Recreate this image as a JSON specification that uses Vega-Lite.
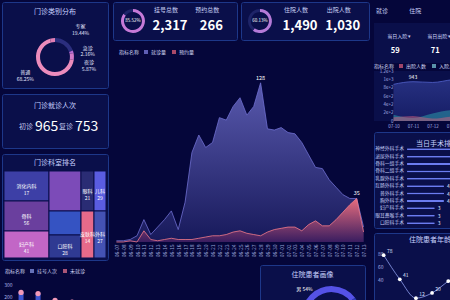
{
"$schema":"https://vega.github.io/schema/vega-lite/v6.json",
"usermeta":{"embedOptions":{"actions":false}},
"background":"#05063a",
"padding":{"left":1,"top":1,"right":0,"bottom":0},
"config":{
 "font":"Noto Sans CJK SC",
 "view":{"stroke":null},
 "axis":{"domain":false,"ticks":false,"grid":false,"labelColor":"#a7b0e4","labelFontSize":5,"labelFont":"Noto Sans CJK SC"},
 "legend":{"labelColor":"#d3d7f5","titleColor":"#d3d7f5","labelFontSize":5,"titleFontSize":5,"symbolType":"square","symbolSize":16,"columnPadding":4,"titlePadding":3,"labelFont":"Noto Sans CJK SC","titleFont":"Noto Sans CJK SC","titleFontWeight":"normal","labelOffset":2,"padding":0},
 "title":{"color":"#c9d2ff","fontSize":7,"fontWeight":"normal","anchor":"middle","frame":"group","baseline":"bottom","offset":-12,"font":"Noto Sans CJK SC"}
},
"datasets":{
 "visitType":[
  {"name":"专家","v":19.44,"lbl":"专家\n19.44%","o":1},
  {"name":"急诊","v":2.16,"lbl":"急诊\n2.16%","o":2},
  {"name":"夜诊","v":5.87,"lbl":"夜诊\n5.87%","o":3},
  {"name":"普通","v":68.25,"lbl":"普通\n68.25%","o":4},
  {"name":"其他","v":4.28,"lbl":"","o":5}
 ],
 "dept":[
  {"c":1,"r":1,"name":"消化内科","v":1350,"n":17},
  {"c":1,"r":2,"name":"骨科","v":1350,"n":56},
  {"c":1,"r":3,"name":"妇产科","v":1215,"n":41},
  {"c":2,"r":1,"name":"神经内科","v":1280,"n":null},
  {"c":2,"r":2,"name":"呼吸内科","v":768,"n":null},
  {"c":2,"r":3,"name":"口腔科","v":736,"n":28},
  {"c":3,"r":1,"name":"眼科","v":520,"n":21},
  {"c":3,"r":2,"name":"皮肤科","v":611,"n":14},
  {"c":4,"r":1,"name":"儿科","v":480,"n":29},
  {"c":4,"r":2,"name":"外科","v":564,"n":27}
 ],
 "trend":[
  {"d":"06-07","s":"就诊量","v":1},{"d":"06-08","s":"就诊量","v":1},{"d":"06-09","s":"就诊量","v":2},{"d":"06-10","s":"就诊量","v":5},{"d":"06-11","s":"就诊量","v":18},{"d":"06-12","s":"就诊量","v":6},{"d":"06-13","s":"就诊量","v":12},{"d":"06-14","s":"就诊量","v":18},{"d":"06-15","s":"就诊量","v":25},{"d":"06-16","s":"就诊量","v":10},
  {"d":"06-17","s":"就诊量","v":32},{"d":"06-18","s":"就诊量","v":72},{"d":"06-19","s":"就诊量","v":86},{"d":"06-20","s":"就诊量","v":76},{"d":"06-21","s":"就诊量","v":80},{"d":"06-22","s":"就诊量","v":100},{"d":"06-23","s":"就诊量","v":98},{"d":"06-24","s":"就诊量","v":109},{"d":"06-25","s":"就诊量","v":116},{"d":"06-26","s":"就诊量","v":102},
  {"d":"06-27","s":"就诊量","v":109},{"d":"06-28","s":"就诊量","v":128},{"d":"06-29","s":"就诊量","v":91},{"d":"06-30","s":"就诊量","v":90},{"d":"07-01","s":"就诊量","v":92},{"d":"07-02","s":"就诊量","v":88},{"d":"07-03","s":"就诊量","v":87},{"d":"07-04","s":"就诊量","v":80},{"d":"07-05","s":"就诊量","v":70},{"d":"07-06","s":"就诊量","v":60},
  {"d":"07-07","s":"就诊量","v":59},{"d":"07-08","s":"就诊量","v":50},{"d":"07-09","s":"就诊量","v":44},{"d":"07-10","s":"就诊量","v":38},{"d":"07-11","s":"就诊量","v":35},{"d":"07-12","s":"就诊量","v":35},{"d":"07-13","s":"就诊量","v":12},
  {"d":"06-07","s":"预约量","v":0},{"d":"06-08","s":"预约量","v":0},{"d":"06-09","s":"预约量","v":1},{"d":"06-10","s":"预约量","v":0},{"d":"06-11","s":"预约量","v":9},{"d":"06-12","s":"预约量","v":2},{"d":"06-13","s":"预约量","v":1},{"d":"06-14","s":"预约量","v":2},{"d":"06-15","s":"预约量","v":3},{"d":"06-16","s":"预约量","v":2},
  {"d":"06-17","s":"预约量","v":2},{"d":"06-18","s":"预约量","v":2},{"d":"06-19","s":"预约量","v":3},{"d":"06-20","s":"预约量","v":4},{"d":"06-21","s":"预约量","v":5},{"d":"06-22","s":"预约量","v":5},{"d":"06-23","s":"预约量","v":6},{"d":"06-24","s":"预约量","v":8},{"d":"06-25","s":"预约量","v":9},{"d":"06-26","s":"预约量","v":7},
  {"d":"06-27","s":"预约量","v":6},{"d":"06-28","s":"预约量","v":5},{"d":"06-29","s":"预约量","v":8},{"d":"06-30","s":"预约量","v":10},{"d":"07-01","s":"预约量","v":11},{"d":"07-02","s":"预约量","v":12},{"d":"07-03","s":"预约量","v":12},{"d":"07-04","s":"预约量","v":9},{"d":"07-05","s":"预约量","v":14},{"d":"07-06","s":"预约量","v":17},
  {"d":"07-07","s":"预约量","v":13},{"d":"07-08","s":"预约量","v":13},{"d":"07-09","s":"预约量","v":18},{"d":"07-10","s":"预约量","v":24},{"d":"07-11","s":"预约量","v":30},{"d":"07-12","s":"预约量","v":35},{"d":"07-13","s":"预约量","v":8}
 ],
 "inpat":[
  {"d":"07-10","s":"在院人数","v":880},{"d":"07-11","s":"在院人数","v":943},{"d":"07-12","s":"在院人数","v":925},{"d":"07-13","s":"在院人数","v":990},{"d":"07-14","s":"在院人数","v":1020},{"d":"07-15","s":"在院人数","v":1005},{"d":"07-16","s":"在院人数","v":1040},
  {"d":"07-10","s":"入院人数","v":150},{"d":"07-11","s":"入院人数","v":70},{"d":"07-12","s":"入院人数","v":180},{"d":"07-13","s":"入院人数","v":260},{"d":"07-14","s":"入院人数","v":140},{"d":"07-15","s":"入院人数","v":210},{"d":"07-16","s":"入院人数","v":170},
  {"d":"07-10","s":"出院人数","v":90},{"d":"07-11","s":"出院人数","v":120},{"d":"07-12","s":"出院人数","v":60},{"d":"07-13","s":"出院人数","v":110},{"d":"07-14","s":"出院人数","v":150},{"d":"07-15","s":"出院人数","v":80},{"d":"07-16","s":"出院人数","v":120}
 ],
 "surg":[
  {"name":"神经外科手术","v":9},{"name":"泌尿外科手术","v":8},{"name":"骨科一组手术","v":7},{"name":"骨科二组手术","v":7},{"name":"乳腺外科手术","v":6},{"name":"肛肠外科手术","v":4},{"name":"普外科手术","v":4},{"name":"胸外科手术","v":4},{"name":"妇产科手术","v":3},{"name":"眼耳鼻喉手术","v":3},{"name":"口腔科手术","v":3}
 ],
 "reg":[
  {"k":"内科","v":235},{"k":"外科","v":225},{"k":"儿科","v":170},{"k":"妇产科","v":155},{"k":"骨科","v":118},{"k":"眼科","v":110},{"k":"口腔科","v":96},{"k":"皮肤科","v":88},{"k":"中医科","v":75},{"k":"急诊科","v":64},{"k":"康复科","v":52},{"k":"耳鼻喉科","v":45},{"k":"神经科","v":38},{"k":"肿瘤科","v":30}
 ],
 "age":[
  {"a":"0-18","v":78},{"a":"19-35","v":41},{"a":"36-50","v":12},{"a":"51-65","v":20},{"a":"66-80","v":38},{"a":"80+","v":55}
 ]
},
"spacing":3,
"resolve":{"scale":{"color":"independent","theta":"independent"},"legend":{"color":"independent"}},
"hconcat":[
 {"spacing":3,
  "resolve":{"scale":{"color":"independent","theta":"independent"},"legend":{"color":"independent"}},
  "vconcat":[
  {"spacing":3,
   "resolve":{"scale":{"color":"independent","theta":"independent"},"legend":{"color":"independent"}},
   "hconcat":[
   {"spacing":4,
    "resolve":{"scale":{"color":"independent","theta":"independent"},"legend":{"color":"independent"}},
    "vconcat":[
    {
     "width":106,"height":86,
     "view":{"fill":"#0a0f4a","stroke":"#1d3789","strokeWidth":1,"cornerRadius":2},
     "title":{"text":"门诊类别分布","offset":-13},
     "data":{"name":"visitType"},
     "encoding":{
      "y":{"datum":0.64,"type":"quantitative","scale":{"domain":[0,1],"reverse":true},"axis":null}
     },
     "layer":[
      {"mark":{"type":"arc","innerRadius":15,"outerRadius":19},
       "encoding":{
        "theta":{"field":"v","type":"quantitative","stack":true,"scale":{"domain":[0,100]}},
        "order":{"field":"o","type":"quantitative"},
        "color":{"field":"name","type":"nominal","scale":{"domain":["专家","急诊","夜诊","普通","其他"],"range":["#2b2e7e","#b46ad0","#d27ac8","#ec8cbc","#e07fb5"]},"legend":null}}},
      {"transform":[
        {"window":[{"op":"sum","field":"v","as":"cum"}],"sort":[{"field":"o"}],"frame":[null,0]},
        {"calculate":"datum.cum - datum.v/2","as":"mid"},
        {"filter":"datum.name==='专家'"}],
       "mark":{"type":"text","radius":34,"dx":6,"dy":-3,"fontSize":5,"lineBreak":"\n","lineHeight":6.5,"color":"#e4e7ff"},
       "encoding":{"theta":{"field":"mid","type":"quantitative","stack":null},"text":{"field":"lbl"}}},
      {"transform":[
        {"window":[{"op":"sum","field":"v","as":"cum"}],"sort":[{"field":"o"}],"frame":[null,0]},
        {"calculate":"datum.cum - datum.v/2","as":"mid"},
        {"filter":"datum.name==='普通'"}],
       "mark":{"type":"text","radius":34,"dx":-7,"dy":-10,"fontSize":5,"lineBreak":"\n","lineHeight":6.5,"color":"#e4e7ff"},
       "encoding":{"theta":{"field":"mid","type":"quantitative","stack":null},"text":{"field":"lbl"}}},
      {"transform":[
        {"window":[{"op":"sum","field":"v","as":"cum"}],"sort":[{"field":"o"}],"frame":[null,0]},
        {"calculate":"datum.cum - datum.v/2","as":"mid"},
        {"filter":"datum.name==='急诊'"}],
       "mark":{"type":"text","radius":34,"dy":0,"fontSize":5,"lineBreak":"\n","lineHeight":6.5,"color":"#e4e7ff"},
       "encoding":{"theta":{"field":"mid","type":"quantitative","stack":null},"text":{"field":"lbl"}}},
      {"transform":[
        {"window":[{"op":"sum","field":"v","as":"cum"}],"sort":[{"field":"o"}],"frame":[null,0]},
        {"calculate":"datum.cum - datum.v/2","as":"mid"},
        {"filter":"datum.name==='夜诊'"}],
       "mark":{"type":"text","radius":34,"dy":6,"fontSize":5,"lineBreak":"\n","lineHeight":6.5,"color":"#e4e7ff"},
       "encoding":{"theta":{"field":"mid","type":"quantitative","stack":null},"text":{"field":"lbl"}}}
     ]
    },
    {
     "width":106,"height":54,
     "view":{"fill":"#0a0f4a","stroke":"#1d3789","strokeWidth":1,"cornerRadius":2},
     "title":{"text":"门诊就诊人次","offset":-15},
     "data":{"values":[{"k":"初诊","n":965},{"k":"复诊","n":753}]},
     "encoding":{"x":{"field":"k","type":"nominal","sort":null,"scale":{"type":"point","padding":0.825},"axis":null}},
     "layer":[
      {"mark":{"type":"text","align":"right","dx":-2,"dy":6,"fontSize":7,"color":"#c6ccf2"},"encoding":{"text":{"field":"k"}}},
      {"mark":{"type":"text","align":"left","dx":0,"dy":6,"fontSize":14,"color":"#ffffff"},"encoding":{"text":{"field":"n","type":"quantitative"}}}
     ]
    },
    {
     "width":106,"height":106,
     "view":{"fill":"#0a0f4a","stroke":"#1d3789","strokeWidth":1,"cornerRadius":2},
     "title":{"text":"门诊科室排名","offset":-12},
     "data":{"name":"dept"},
     "transform":[
      {"stack":"v","groupby":[],"sort":[{"field":"c","order":"ascending"},{"field":"r","order":"ascending"}],"offset":"normalize","as":["s0","s1"]},
      {"window":[{"op":"min","field":"s0","as":"x0"},{"op":"max","field":"s1","as":"x1"}],"groupby":["c"],"frame":[null,null]},
      {"stack":"v","groupby":["c"],"sort":[{"field":"r","order":"ascending"}],"offset":"normalize","as":["y0","y1"]},
      {"calculate":"(datum.x0+datum.x1)/2","as":"xm"},
      {"calculate":"(datum.y0+datum.y1)/2","as":"ym"},
      {"calculate":"datum.n ? datum.name + '\\n' + datum.n : ''","as":"lbl"}
     ],
     "layer":[
      {"mark":{"type":"rect","stroke":"#0a0f4a","strokeWidth":1},
       "encoding":{
        "x":{"field":"x0","type":"quantitative","scale":{"domain":[-0.0196,1.0196],"nice":false,"zero":false},"axis":null},
        "x2":{"field":"x1"},
        "y":{"field":"y0","type":"quantitative","scale":{"domain":[-0.1954,1.023],"nice":false,"zero":false,"reverse":true},"axis":null},
        "y2":{"field":"y1"},
        "color":{"field":"name","type":"nominal","scale":{"domain":["消化内科","骨科","妇产科","神经内科","呼吸内科","口腔科","眼科","皮肤科","儿科","外科"],"range":["#3d3fa6","#6a3f9e","#c266c6","#7c4bb8","#3553c2","#2f3a92","#2a2c74","#e66a8a","#5a5ce0","#4452b4"]},"legend":null}}},
      {"mark":{"type":"text","fontSize":5,"lineBreak":"\n","color":"#ffffff"},
       "encoding":{"x":{"field":"xm","type":"quantitative"},"y":{"field":"ym","type":"quantitative"},"text":{"field":"lbl"}}}
     ]
    }
   ]},
   {"spacing":2,
    "resolve":{"scale":{"color":"independent","theta":"independent"},"legend":{"color":"independent"}},
    "vconcat":[
    {"spacing":2,
     "resolve":{"scale":{"color":"independent","theta":"independent"},"legend":{"color":"independent"}},
     "hconcat":[
     {
      "width":124,"height":38,
      "view":{"fill":"#0a0f4a","stroke":"#1d3789","strokeWidth":1,"cornerRadius":2},
      "layer":[
       {"data":{"values":[{"k":"完成","v":85.52},{"k":"未完成","v":14.48}]},
        "mark":{"type":"arc","innerRadius":9,"outerRadius":12},
        "encoding":{
         "theta":{"field":"v","type":"quantitative"},
         "order":{"field":"v","type":"quantitative","sort":"descending"},
         "color":{"field":"k","type":"nominal","scale":{"domain":["完成","未完成"],"range":["#c77ad8","#1e2468"]},"legend":null},
         "x":{"datum":0.161,"type":"quantitative","scale":{"domain":[0,1]},"axis":null}}},
       {"data":{"values":[{"p":"85.52%"}]},
        "mark":{"type":"text","fontSize":4.5,"color":"#ffffff"},
        "encoding":{"text":{"field":"p"},"x":{"datum":0.161,"type":"quantitative","scale":{"domain":[0,1]},"axis":null}}},
       {"data":{"values":[{"k":"挂号总数","n":2317},{"k":"预约总数","n":266}]},
        "encoding":{"x":{"field":"k","type":"nominal","sort":null,"scale":{"type":"point","padding":1.176,"align":0.69},"axis":null}},
        "layer":[
         {"mark":{"type":"text","fontSize":6,"dx":-4,"dy":-11,"color":"#c6cdf2"},"encoding":{"text":{"field":"k"}}},
         {"mark":{"type":"text","fontSize":13,"fontWeight":"bold","dy":5,"color":"#ffffff"},"encoding":{"text":{"field":"n","type":"quantitative","format":","}}}
        ]}
      ],
      "resolve":{"scale":{"x":"independent"}}
     },
     {
      "width":128,"height":38,
      "view":{"fill":"#0a0f4a","stroke":"#1d3789","strokeWidth":1,"cornerRadius":2},
      "layer":[
       {"data":{"values":[{"k":"完成","v":60.13},{"k":"未完成","v":39.87}]},
        "mark":{"type":"arc","innerRadius":9,"outerRadius":12},
        "encoding":{
         "theta":{"field":"v","type":"quantitative"},
         "order":{"field":"v","type":"quantitative","sort":"descending"},
         "color":{"field":"k","type":"nominal","scale":{"domain":["完成","未完成"],"range":["#b57ad8","#1e2468"]},"legend":null},
         "x":{"datum":0.148,"type":"quantitative","scale":{"domain":[0,1]},"axis":null}}},
       {"data":{"values":[{"p":"60.13%"}]},
        "mark":{"type":"text","fontSize":4.5,"color":"#ffffff"},
        "encoding":{"text":{"field":"p"},"x":{"datum":0.148,"type":"quantitative","scale":{"domain":[0,1]},"axis":null}}},
       {"data":{"values":[{"k":"住院人数","n":1490},{"k":"出院人数","n":1030}]},
        "encoding":{"x":{"field":"k","type":"nominal","sort":null,"scale":{"type":"point","padding":1.23,"align":0.692},"axis":null}},
        "layer":[
         {"mark":{"type":"text","fontSize":6,"dx":-4,"dy":-11,"color":"#c6cdf2"},"encoding":{"text":{"field":"k"}}},
         {"mark":{"type":"text","fontSize":13,"fontWeight":"bold","dy":5,"color":"#ffffff"},"encoding":{"text":{"field":"n","type":"quantitative","format":","}}}
        ]}
      ],
      "resolve":{"scale":{"x":"independent"}}
     }
    ]},
    {
     "width":254,"height":199,
     "data":{"name":"trend"},
     "encoding":{
      "x":{"field":"d","type":"ordinal","sort":null,"scale":{"type":"point","padding":0.5},"axis":{"labelAngle":-90,"labelFontSize":5,"labelOverlap":false,"labelPadding":2,"labelColor":"#9aa3d8"},"title":null},
      "y":{"field":"v","type":"quantitative","scale":{"domain":[0,160],"nice":false},"axis":null}
     },
     "layer":[
      {"transform":[{"filter":"datum.s==='就诊量'"}],
       "mark":{"type":"area","opacity":0.95,"fill":{"x1":0,"y1":0,"x2":0,"y2":1,"gradient":"linear","stops":[{"offset":0,"color":"#5e5eb4"},{"offset":1,"color":"#181a5c"}]},"line":{"color":"#6f6fd0","strokeWidth":0.8}}},
      {"transform":[{"filter":"datum.s==='预约量'"}],
       "mark":{"type":"area","opacity":0.95,"fill":{"x1":0,"y1":0,"x2":0,"y2":1,"gradient":"linear","stops":[{"offset":0,"color":"#f2707f"},{"offset":1,"color":"#3b1d60"}]},"line":{"color":"#f07a8a","strokeWidth":0.8}}},
      {"transform":[{"joinaggregate":[{"op":"max","field":"v","as":"mx"}],"groupby":["s"]},{"filter":"datum.v===datum.mx"}],
       "mark":{"type":"text","dy":-5,"fontSize":5.5,"color":"#ffffff"},
       "encoding":{"text":{"field":"v","type":"quantitative"}}},
      {"transform":[{"filter":"false"}],
       "mark":{"type":"square","filled":true},
       "encoding":{"color":{"field":"s","type":"nominal","scale":{"domain":["就诊量","预约量"],"range":["#8585e8","#f0667e"]},"legend":{"orient":"top-left","direction":"horizontal","title":"指标名称","titleOrient":"left","offset":6}}}}
     ]
    }
   ]}
  ]},
  {"spacing":3,
   "resolve":{"scale":{"color":"independent","theta":"independent"},"legend":{"color":"independent"}},
   "hconcat":[
   {
    "width":254,"height":56,
    "data":{"name":"reg"},
    "encoding":{
     "x":{"field":"k","type":"nominal","sort":null,"scale":{"paddingInner":0,"paddingOuter":0.47,"align":0.66},"axis":null},
     "y":{"field":"v","type":"quantitative","scale":{"domain":[0,460],"nice":false},"axis":{"values":[100,200,300],"labelFontSize":5,"labelPadding":2,"offset":-12},"title":null}
    },
    "layer":[
     {"mark":{"type":"bar","size":5,"color":"#3d56d0"}},
     {"mark":{"type":"circle","size":28,"color":"#f29ab8","opacity":1}},
     {"transform":[{"filter":"false"}],
      "mark":{"type":"square","filled":true},
      "encoding":{"color":{"field":"k","type":"nominal","scale":{"domain":["挂号人次","未就诊"],"range":["#8ea0f0","#f07890"]},"legend":{"orient":"top-left","direction":"horizontal","title":"指标名称","titleOrient":"left","offset":3}}}}
    ]
   },
   {
    "width":105,"height":70,
    "view":{"fill":"#0a0f4a","stroke":"#1d3789","strokeWidth":1,"cornerRadius":2},
    "title":{"text":"住院患者画像","offset":-13},
    "data":{"values":[{"k":"男","v":54},{"k":"女","v":46}]},
    "encoding":{
     "theta":{"field":"v","type":"quantitative","stack":true,"scale":{"range":[3.8,10.08]}},
     "order":{"field":"v","type":"quantitative","sort":"descending"},
     "x":{"datum":0.68,"type":"quantitative","scale":{"domain":[0,1]},"axis":null},
     "y":{"datum":0.73,"type":"quantitative","scale":{"domain":[0,1],"reverse":true},"axis":null}
    },
    "layer":[
     {"mark":{"type":"arc","innerRadius":24,"outerRadius":30},
      "encoding":{"color":{"field":"k","type":"nominal","scale":{"domain":["男","女"],"range":["#5552e6","#2f3cb8"]},"legend":null}}},
     {"transform":[{"calculate":"datum.k + ' ' + datum.v + '%'","as":"lbl"}],
      "mark":{"type":"text","radius":38,"fontSize":5,"color":"#ffffff"},
      "encoding":{"text":{"field":"lbl"}}}
    ]
   }
  ]}
 ]},
 {"spacing":3,
  "resolve":{"scale":{"color":"independent","theta":"independent"},"legend":{"color":"independent"}},
  "vconcat":[
  {
   "width":100,"height":18,
   "data":{"values":[{"t":"就诊"},{"t":"住院"}]},
   "mark":{"type":"text","fontSize":6,"color":"#c6cdf5"},
   "encoding":{"x":{"field":"t","type":"nominal","sort":null,"scale":{"type":"point","padding":1.88,"align":0.12},"axis":null},"text":{"field":"t"}}
  },
  {"spacing":0,
   "resolve":{"scale":{"color":"independent","theta":"independent"},"legend":{"color":"independent"}},
   "vconcat":[
   {
    "width":100,"height":40,
    "view":{"fill":"#0a0f4a","stroke":null},
    "data":{"values":[{"k":"当日入院","n":59},{"k":"当日出院","n":71}]},
    "transform":[{"calculate":"datum.k + ' ▾'","as":"lab"}],
    "encoding":{"x":{"field":"k","type":"nominal","sort":null,"scale":{"type":"point","padding":0.75,"align":0.42},"axis":null}},
    "layer":[
     {"mark":{"type":"text","fontSize":5,"dy":-7,"color":"#cdd3f7"},"encoding":{"text":{"field":"lab"}}},
     {"mark":{"type":"text","fontSize":7.5,"fontWeight":"bold","dx":-4,"dy":8,"color":"#ffffff"},"encoding":{"text":{"field":"n","type":"quantitative"}}}
    ]
   },
   {
    "width":156,"height":50,
    "view":{"fill":"#0a0f4a","stroke":null},
    "data":{"name":"inpat"},
    "encoding":{
     "x":{"field":"d","type":"ordinal","sort":null,"scale":{"type":"point","padding":2.09},"axis":{"labelFontSize":4.5,"labelAngle":0,"labelPadding":2},"title":null},
     "y":{"field":"v","type":"quantitative","scale":{"domain":[0,1200],"nice":false},"axis":{"values":[0,200,400,600,800,1000,1200],"labelFontSize":4.5,"format":",","labelPadding":2,"labelOverlap":false,"offset":-21},"title":null}
    },
    "layer":[
     {"transform":[{"filter":"datum.s==='在院人数'"}],
      "mark":{"type":"area","interpolate":"monotone","fill":{"x1":0,"y1":0,"x2":0,"y2":1,"gradient":"linear","stops":[{"offset":0,"color":"#34409a"},{"offset":1,"color":"#1a2270"}]},"line":{"color":"#5262cc","strokeWidth":0.8}}},
     {"transform":[{"filter":"datum.s==='入院人数'"}],
      "mark":{"type":"area","interpolate":"monotone","fill":"#2b9aa8","fillOpacity":0.55}},
     {"transform":[{"filter":"datum.s==='出院人数'"}],
      "mark":{"type":"area","interpolate":"monotone","fill":"#d0607e","fillOpacity":0.5}},
     {"transform":[{"filter":"datum.s==='在院人数' && datum.d==='07-11'"}],
      "mark":{"type":"text","dy":-5,"fontSize":5,"color":"#ffffff"},
      "encoding":{"text":{"field":"v","type":"quantitative"}}},
     {"transform":[{"filter":"false"}],
      "mark":{"type":"square","filled":true},
      "encoding":{"color":{"field":"s","type":"nominal","scale":{"domain":["出院人数","入院人数","在院人数"],"range":["#e0607e","#7fd0d8","#5262cc"]},"legend":{"orient":"top","direction":"horizontal","title":"指标名称","titleOrient":"left","offset":2}}}}
    ]
   }
  ]},
  {
   "width":100,"height":96,
   "view":{"fill":"#0a0f4a","stroke":"#1d3789","strokeWidth":1,"cornerRadius":2},
   "title":{"text":"当日手术排名","dx":13,"offset":-15},
   "data":{"name":"surg"},
   "encoding":{
    "y":{"field":"name","type":"nominal","sort":null,"scale":{"paddingInner":0,"paddingOuter":1.56,"align":0.92},"axis":null}
   },
   "layer":[
    {"mark":{"type":"bar","size":2,"color":"#6b7cf0","cornerRadiusEnd":1},
     "encoding":{"x":{"field":"v","type":"quantitative","scale":{"domain":[-3.57,7.24],"nice":false,"zero":false},"axis":null}}},
    {"mark":{"type":"text","align":"right","dx":-3,"fontSize":4.8,"color":"#c6cdf5"},
     "encoding":{"x":{"datum":0,"type":"quantitative"},"text":{"field":"name"}}},
    {"mark":{"type":"text","align":"left","dx":3,"fontSize":5,"color":"#e2e6ff"},
     "encoding":{"x":{"field":"v","type":"quantitative"},"text":{"field":"v","type":"quantitative"}}}
   ]
  },
  {
   "width":100,"height":73,
   "view":{"fill":"#0a0f4a","stroke":"#1d3789","strokeWidth":1,"cornerRadius":2},
   "title":{"text":"住院患者年龄分布","dx":13,"offset":-10},
   "data":{"name":"age"},
   "encoding":{
    "x":{"field":"a","type":"ordinal","sort":null,"scale":{"type":"point","padding":0.6},"axis":null},
    "y":{"field":"v","type":"quantitative","scale":{"domain":[0,112],"nice":false},"axis":{"values":[40,60,80],"labelFontSize":5,"labelPadding":2,"offset":-11},"title":null}
   },
   "layer":[
    {"mark":{"type":"line","interpolate":"monotone","color":"#8fa0f0","strokeWidth":0.8}},
    {"mark":{"type":"circle","size":14,"color":"#ffffff","opacity":1}},
    {"mark":{"type":"text","dx":6,"dy":-4,"fontSize":5,"color":"#dfe3ff"},"encoding":{"text":{"field":"v","type":"quantitative"}}}
   ]
  }
 ]}
]
}
